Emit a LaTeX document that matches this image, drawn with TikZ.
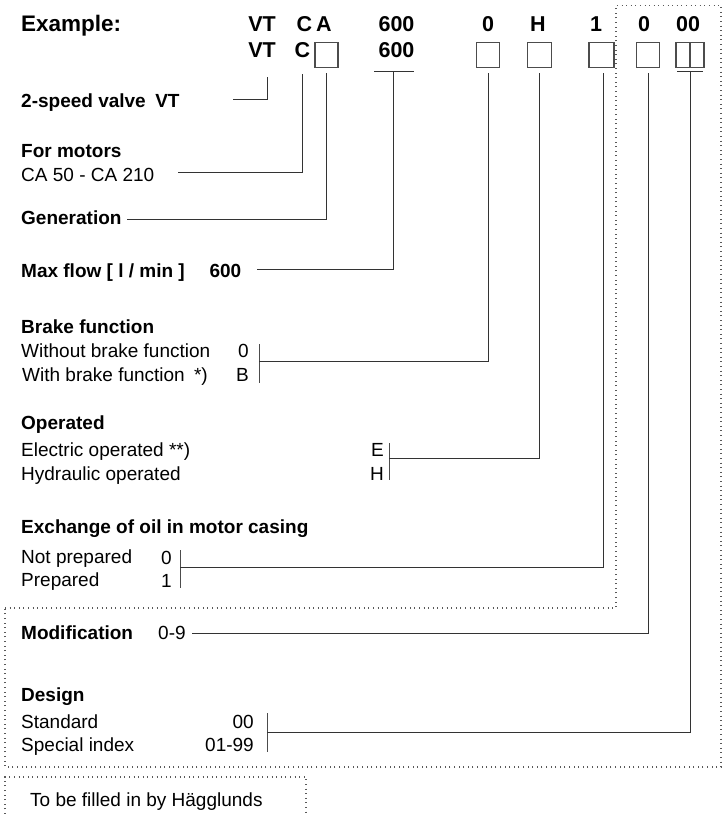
\documentclass[tikz,border=0pt]{standalone}
\usepackage{fontspec}
\setmainfont{Liberation Sans}
\usetikzlibrary{calc}
\begin{document}
\begin{tikzpicture}[x=1pt,y=-1pt]
\tikzset{
  lbl/.style={inner sep=0pt, anchor=base west, font=\fontsize{19}{22}\selectfont},
  lble/.style={inner sep=0pt, anchor=base east, font=\fontsize{19}{22}\selectfont},
  hd/.style={inner sep=0pt, anchor=base west, font=\fontsize{19}{22}\selectfont\bfseries},
  code/.style={inner sep=0pt, anchor=base, font=\fontsize{21.5}{24}\selectfont\bfseries},
  cbox/.style={draw=black!70, line width=1.1pt, minimum width=23pt, minimum height=25pt, inner sep=0pt},
  conn/.style={draw=black!80, line width=1pt},
  bar/.style={draw=black!70, line width=1pt},
  dots/.style={draw=black!65, line width=1.1pt, dash pattern=on 1pt off 3.6pt},
}
\useasboundingbox (0,0) rectangle (728,814);

% header
\node[code, anchor=base west, font=\fontsize{22.5}{26}\selectfont\bfseries] (ex) at (21,31) {Example:};
\node[code] (r1vt) at (262,31) {VT};
\node[code] (r1c) at (304.5,31) {C};
\node[code] (r1a) at (324,31) {A};
\node[code] (r1f) at (396.5,31) {600};
\node[code] (r1b) at (488,31) {0};
\node[code] (r1o) at (538,31) {H};
\node[code] (r1x) at (596,31) {1};
\node[code] (r1m) at (644,31) {0};
\node[code] (r1d) at (688,31) {00};

\node[code] (vt2) at (262,57) {VT};
\node[code] (c2) at (302.5,57) {C};
\node[cbox] (bA) at (326.5,55) {};
\node[code] (f2) at (396.5,57) {600};
\node[cbox] (b1) at (488,55) {};
\node[cbox, minimum width=24pt] (b2) at (539.5,55) {};
\node[cbox, minimum width=25pt] (b3) at (601.5,55) {};
\node[cbox] (b4) at (648,55) {};
\node[cbox, minimum width=14pt] (b5) at (683,55) {};
\node[cbox, minimum width=14pt] (b6) at (697,55) {};

% underlines
\coordinate (u1l) at (374,71.5); \coordinate (u1r) at (414,71.5);
\draw[conn] (u1l) -- (u1r);
\coordinate (u2l) at (677,71.5); \coordinate (u2r) at (703,71.5);
\draw[conn] (u2l) -- (u2r);

% dotted regions
\draw[dots] (5,608) -- (616,608) -- (616,5.5) -- (721,5.5) -- (721,767) -- (5,767) -- cycle;
\draw[dots] (5,814) -- (5,777) -- (306,777) -- (306,814);

% left labels
\node[hd] (vtl) at (21,107) {2-speed valve\hspace{0.5em}VT};
\node[hd] (mot) at (21,157) {For motors};
\node[lbl] (cal) at (21,181) {CA 50 - CA 210};
\node[hd] (gen) at (21,224) {Generation};
\node[hd] (mfl) at (21,277) {Max flow [ l / min ]\hspace{1.3em}600};

\node[hd] (brk) at (21,333) {Brake function};
\node[lbl] (brk1) at (21,357) {Without brake function};
\node[lbl] (brk2) at (22,381) {With brake function};
\node[lble] (brk2s) at (208,381) {*)};
\node[lble] (brk1v) at (249,357) {0};
\node[lble] (brk2v) at (249,381) {B};

\node[hd] (op) at (21,429) {Operated};
\node[lbl] (op1) at (21,456) {Electric operated **)};
\node[lbl] (op2) at (21,480) {Hydraulic operated};
\node[lble] (op1v) at (384,456) {E};
\node[lble] (op2v) at (384,480) {H};

\node[hd] (oil) at (21,533) {Exchange of oil in motor casing};
\node[lbl] (oil1) at (21,563) {Not prepared};
\node[lbl] (oil2) at (21,586) {Prepared};
\node[lble] (oil1v) at (172,564) {0};
\node[lble] (oil2v) at (172,587) {1};

\node[hd] (mod) at (21,639) {Modification};
\node[lbl] (modv) at (158,639) {0-9};

\node[hd] (des) at (21,701) {Design};
\node[lbl] (des1) at (21,728) {Standard};
\node[lbl] (des2) at (21,751) {Special index};
\node[lble] (des1v) at (254,728) {00};
\node[lble] (des2v) at (254,751) {01-99};

\node[lbl] (fill) at (30,806) {To be filled in by H\"agglunds};

% bars
\coordinate (brkT) at (259,344); \coordinate (brkB) at (259,383); \coordinate (brkM) at (259,361);
\draw[bar] (brkT) -- (brkB);
\coordinate (opT) at (389,443); \coordinate (opB) at (389,480); \coordinate (opM) at (389,458);
\draw[bar] (opT) -- (opB);
\coordinate (oilT) at (180,550); \coordinate (oilB) at (180,588); \coordinate (oilM) at (180,567);
\draw[bar] (oilT) -- (oilB);
\coordinate (desT) at (267,713); \coordinate (desB) at (267,752); \coordinate (desM) at (267,732);
\draw[bar] (desT) -- (desB);

% connector ends
\coordinate (vtE) at (233,99);
\coordinate (calE) at (178,172.5);
\coordinate (genE) at (127,219);
\coordinate (mflE) at (257,269);
\coordinate (modE) at (192,633.5);

% connectors
\draw[conn] ([xshift=5pt,yshift=-20pt]vt2.south) |- (vtE);
\draw[conn] ([yshift=-17pt]c2.south) |- (calE);
\draw[conn] ([yshift=-5pt]bA.south) |- (genE);
\draw[conn] ([xshift=-1pt,yshift=-0.5pt]$(u1l)!0.5!(u1r)$) |- (mflE);
\draw[conn] ([yshift=-5pt]b1.south) |- (brkM);
\draw[conn] ([yshift=-5pt]b2.south) |- (opM);
\draw[conn] ([xshift=1.5pt,yshift=-5pt]b3.south) |- (oilM);
\draw[conn] ([yshift=-5pt]b4.south) |- (modE);
\draw[conn] ([yshift=-0.5pt]$(u2l)!0.5!(u2r)$) |- (desM);
\end{tikzpicture}
\end{document}
